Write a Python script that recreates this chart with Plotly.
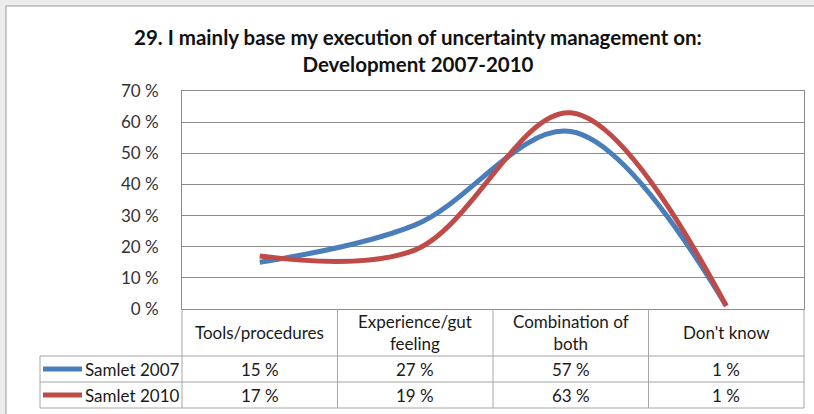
import plotly.graph_objects as go

categories = ["Tools/procedures", "Experience/gut<br>feeling", "Combination of<br>both", "Don't know"]
series_names = ["Samlet 2007", "Samlet 2010"]
samlet_2007 = [15, 27, 57, 1]
samlet_2010 = [17, 19, 63, 1]
y_ticks = [0, 10, 20, 30, 40, 50, 60, 70]
y_tick_labels = [f"{v} %" for v in y_ticks]

series_values = [samlet_2007, samlet_2010]
colors = ["#4a7ebb", "#be4b48"]
FONT = "Lato"

W, H = 814, 414
L, R, T, B = 182, 804, 91, 309  # plot area in pixels


def px(x):
    return (x - L) / (R - L)


def py(y):
    return (B - y) / (B - T)


fig = go.Figure()
for name, vals, col in zip(series_names, series_values, colors):
    fig.add_trace(go.Scatter(
        x=list(range(len(categories))), y=vals, name=name, mode="lines",
        line=dict(color=col, width=5, shape="spline", smoothing=1.0),
        hoverinfo="skip",
    ))

shapes = []
# outer chart frame
shapes.append(dict(type="rect", xref="paper", yref="paper", x0=px(6), x1=px(830),
                   y0=py(430), y1=py(6), fillcolor="white",
                   line=dict(color="#9a9a9a", width=1), layer="below"))
grid_col = "#a6a6a6"
# table horizontal lines
for yy, x0 in [(356, 40), (382, 40), (408, 40)]:
    shapes.append(dict(type="line", xref="paper", yref="paper", x0=px(x0), x1=px(R),
                       y0=py(yy), y1=py(yy), line=dict(color=grid_col, width=1)))
# table vertical lines
n = len(categories)
for i in range(n + 1):
    xx = px(L + (R - L) * i / n)
    shapes.append(dict(type="line", xref="paper", yref="paper", x0=xx, x1=xx,
                       y0=py(B), y1=py(408), line=dict(color=grid_col, width=1)))
shapes.append(dict(type="line", xref="paper", yref="paper", x0=px(40), x1=px(40),
                   y0=py(356), y1=py(408), line=dict(color=grid_col, width=1)))
# legend keys
for yy, col in zip([369, 395], colors):
    shapes.append(dict(type="line", xref="paper", yref="paper", x0=px(43), x1=px(82),
                       y0=py(yy), y1=py(yy), line=dict(color=col, width=5)))

annotations = []
txt_col = "#1a1a1a"
for i, c in enumerate(categories):
    annotations.append(dict(x=i, y=py(332.5), xref="x", yref="paper", text=c, showarrow=False,
                            yanchor="middle",
                            font=dict(family=FONT, size=17, color=txt_col), align="center"))
for name, vals, yy in zip(series_names, series_values, [369, 395]):
    annotations.append(dict(x=px(83), y=py(yy), xref="paper", yref="paper", text=name,
                            showarrow=False, xanchor="left", yanchor="middle",
                            font=dict(family=FONT, size=17, color=txt_col)))
    for i, v in enumerate(vals):
        annotations.append(dict(x=i, y=py(yy), xref="x", yref="paper", text=f"{v} %",
                                showarrow=False, yanchor="middle",
                                font=dict(family=FONT, size=17, color=txt_col)))

fig.update_layout(
    width=W, height=H,
    margin=dict(l=L, r=W - R, t=T, b=H - B, pad=0),
    paper_bgcolor="#ececec",
    plot_bgcolor="#dcdcdc",
    showlegend=False,
    title=dict(text="<b>29. I mainly base my execution of uncertainty management on:<br>Development 2007-2010</b>",
               x=418 / W, xref="container", xanchor="center", y=1 - 45 / H, yref="container",
               yanchor="middle",
               font=dict(family=FONT, size=20.5, color="#111111")),
    xaxis=dict(range=[-0.5, n - 0.5], showticklabels=False, showgrid=False, zeroline=False,
               showline=True, linecolor="#8c8c8c", mirror=True, fixedrange=True),
    yaxis=dict(range=[0, 70], tickvals=y_ticks, ticktext=y_tick_labels, showgrid=True,
               gridcolor="#8c8c8c", gridwidth=1, zeroline=False, showline=True,
               linecolor="#8c8c8c", mirror=True, ticks="", ticklabelstandoff=19,
               tickfont=dict(family=FONT, size=17, color="#333333"), fixedrange=True),
    shapes=shapes,
    annotations=annotations,
)

fig.write_html("out.html", config={"displayModeBar": False},
               post_script="document.body.style.margin='0';")
